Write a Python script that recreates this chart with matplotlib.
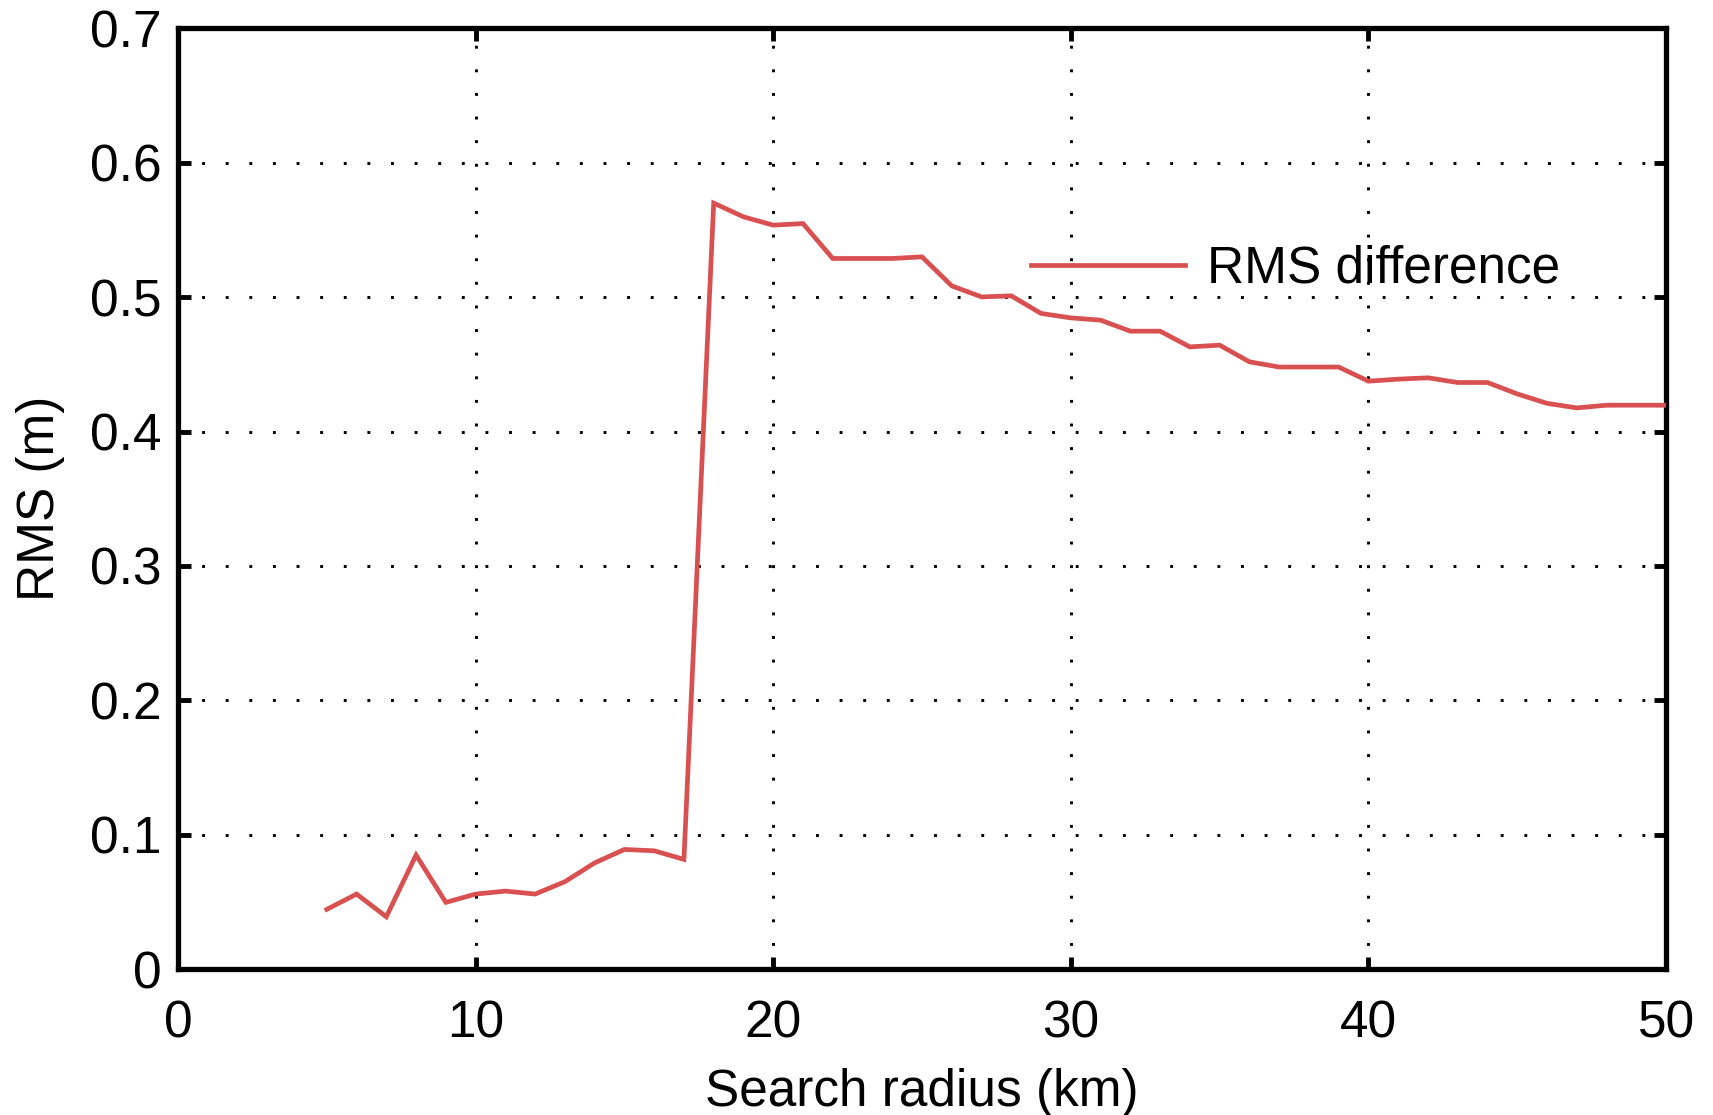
import matplotlib
matplotlib.use("Agg")
import matplotlib.pyplot as plt

radius_km = list(range(5, 51))
rms_diff = [0.0444, 0.0558, 0.0389, 0.0848, 0.0496, 0.0558, 0.0580, 0.0558, 0.0650,
            0.0790, 0.0890, 0.0880, 0.0816,
            0.5700, 0.5598, 0.5536, 0.5548, 0.5288, 0.5288, 0.5288, 0.5300,
            0.5084, 0.5002, 0.5010, 0.4879, 0.4846, 0.4829, 0.4747, 0.4747,
            0.4630, 0.4643, 0.4519, 0.4480, 0.4480, 0.4480, 0.4375, 0.4390,
            0.4400, 0.4365, 0.4365, 0.4280, 0.4210, 0.4176, 0.4196, 0.4196, 0.4196]
series_label = "RMS difference"
x_ticks = [0, 10, 20, 30, 40, 50]
y_ticks = [0, 0.1, 0.2, 0.3, 0.4, 0.5, 0.6, 0.7]
y_tick_labels = ["0", "0.1", "0.2", "0.3", "0.4", "0.5", "0.6", "0.7"]
x_label = "Search radius (km)"
y_label = "RMS (m)"

plt.rcParams['font.family'] = ['Liberation Sans', 'DejaVu Sans']
plt.rcParams['lines.scale_dashes'] = False

fig = plt.figure(figsize=(17.13, 11.15), dpi=100)
ax = fig.add_axes([0.1039, 0.1309, 0.8687, 0.8436])

ax.plot(radius_km, rms_diff, color='#d95050', lw=3.4, label=series_label,
        solid_joinstyle='miter', zorder=3)

ax.set_xlim(0, 50)
ax.set_ylim(0, 0.7)
ax.set_xticks(x_ticks)
ax.set_yticks(y_ticks)
ax.set_yticklabels(y_tick_labels)

fs = 37
ax.tick_params(axis='both', which='major', direction='in', length=9, width=3.5,
               labelsize=fs, top=True, right=True)
ax.tick_params(axis='x', pad=22)
ax.tick_params(axis='y', pad=12)
for s in ax.spines.values():
    s.set_linewidth(3.8)

ax.grid(True, color='black', linestyle=(0, (2.1, 14.9)), linewidth=2.1, zorder=1)
ax.set_axisbelow(True)

ax.set_xlabel(x_label, fontsize=fs, labelpad=14)
ax.set_ylabel(y_label, fontsize=fs, labelpad=18)

leg = ax.legend(loc='center left', bbox_to_anchor=(0.573, 0.744), frameon=False,
                fontsize=fs, borderpad=0, borderaxespad=0, handlelength=3.0,
                handletextpad=0.43)

fig.savefig("out.png", dpi=100)
